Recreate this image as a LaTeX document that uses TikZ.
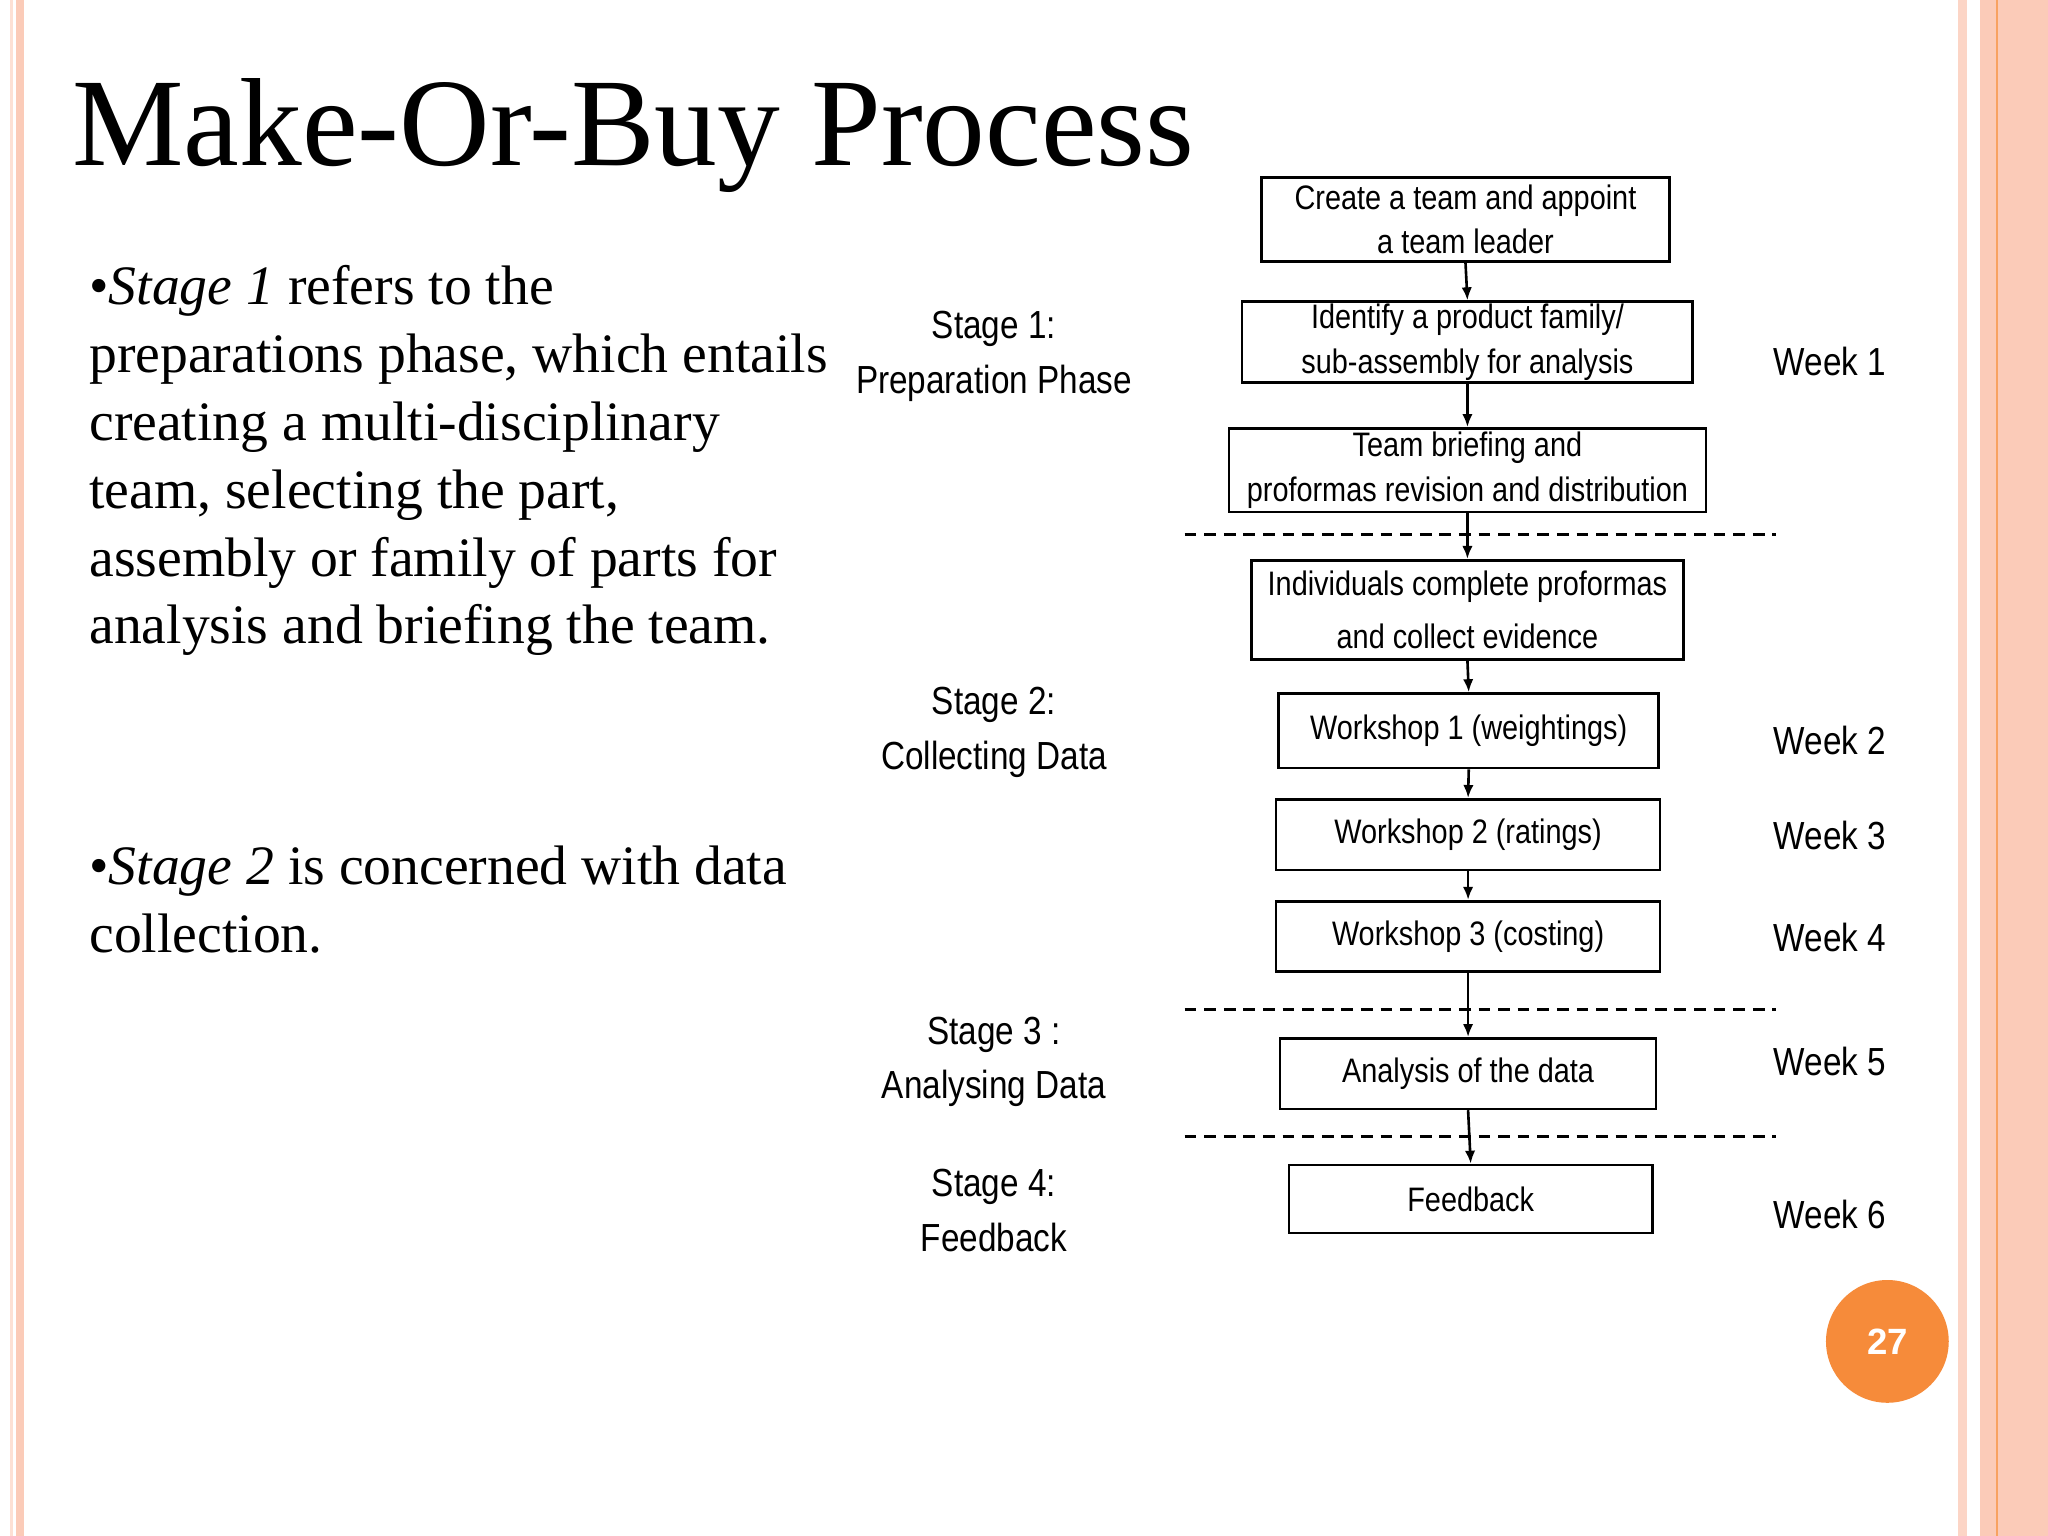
\documentclass[tikz,border=0pt]{standalone}
\usepackage{fontspec}
\setmainfont{Liberation Serif}
\newfontfamily\flowfont{Liberation Sans}
\usetikzlibrary{arrows.meta}
\definecolor{pinkA}{HTML}{FBCBB8}
\definecolor{orangeB}{HTML}{F68B3A}
\begin{document}
\begin{tikzpicture}[x=0.5pt,y=-0.5pt,
  fbox/.style={draw,line width=1pt,inner sep=0pt,font=\flowfont\fontsize{13}{16}\selectfont,align=center},
  lab/.style={font=\flowfont\fontsize{15}{21}\selectfont,align=center,xscale=0.85},
  arr/.style={-{Latex[length=5pt,width=4pt]},line width=1pt},
  dsh/.style={dash pattern=on 4.5pt off 3pt,line width=1pt},
  body/.style={anchor=base west,inner sep=0pt,font=\fontsize{21.3}{26}\selectfont}]
\useasboundingbox (0,0) rectangle (1568,1176);
\fill[white] (0,0) rectangle (1568,1176);
\fill[pinkA!60] (8,0) rectangle (10,1176);
\fill[pinkA] (12,0) rectangle (18,1176);
\fill[pinkA!80] (1499,0) rectangle (1506,1176);
\fill[pinkA] (1516,0) rectangle (1568,1176);
\fill[orangeB!80] (1528,0) rectangle (1530,1176);
\node[anchor=base west,inner sep=0pt,font=\fontsize{48}{55}\selectfont] (title) at (55,127) {Make-Or-Buy Process};
\node[body] (t1) at (68,233) {•\textit{Stage 1} refers to the};
\node[body] (t2) at (68,285) {preparations phase, which entails};
\node[body] (t3) at (68,337) {creating a multi-disciplinary};
\node[body] (t4) at (68,389) {team, selecting the part,};
\node[body] (t5) at (68,441) {assembly or family of parts for};
\node[body] (t6) at (68,493) {analysis and briefing the team.};
\node[body] (t7) at (68,677) {•\textit{Stage 2} is concerned with data};
\node[body] (t8) at (68,729) {collection.};
% boxes
\node[fbox,minimum width=156pt,minimum height=32pt] (b1) at (1122,168) {\scalebox{0.85}[1]{Create a team and appoint}\\[1pt]\scalebox{0.85}[1]{a team leader}};
\node[fbox,minimum width=172.5pt,minimum height=31pt] (b2) at (1123.5,262) {\scalebox{0.85}[1]{Identify a product family/}\\[1pt]\scalebox{0.85}[1]{sub-assembly for analysis}};
\node[fbox,minimum width=182.5pt,minimum height=32pt] (b3) at (1123.5,360) {\scalebox{0.85}[1]{Team briefing and}\\[1pt]\scalebox{0.85}[1]{proformas revision and distribution}};
\node[fbox,minimum width=165.5pt,minimum height=38pt] (b4) at (1123.5,467) {\scalebox{0.85}[1]{Individuals complete proformas}\\[4pt]\scalebox{0.85}[1]{and collect evidence}};
\node[fbox,minimum width=145.5pt,minimum height=28.5pt] (b5) at (1124.5,559.5) {\scalebox{0.85}[1]{Workshop 1 (weightings)}};
\node[fbox,minimum width=147pt,minimum height=27pt] (b6) at (1124,639) {\scalebox{0.85}[1]{Workshop 2 (ratings)}};
\node[fbox,minimum width=147pt,minimum height=27pt] (b7) at (1124,717) {\scalebox{0.85}[1]{Workshop 3 (costing)}};
\node[fbox,minimum width=144pt,minimum height=27pt] (b8) at (1124,822) {\scalebox{0.85}[1]{Analysis of the data}};
\node[fbox,minimum width=139pt,minimum height=26pt] (b9) at (1126,918) {\scalebox{0.85}[1]{Feedback}};
\foreach \a/\b in {b1/b2,b2/b3,b3/b4,b4/b5,b5/b6,b6/b7,b7/b8,b8/b9}
  \draw[arr] (\a.south) -- (\b.north);
\coordinate (d1a) at (907,409); \coordinate (d1b) at (1360,409);
\coordinate (d2a) at (907,773); \coordinate (d2b) at (1360,773);
\coordinate (d3a) at (907,870); \coordinate (d3b) at (1360,870);
\draw[dsh] (d1a) -- (d1b); \draw[dsh] (d2a) -- (d2b); \draw[dsh] (d3a) -- (d3b);
% stages
\node[lab] (s1) at (761,273) {Stage 1:\\Preparation Phase};
\node[lab] (s2) at (761,561) {Stage 2:\\Collecting Data};
\node[lab] (s3) at (761,813) {Stage 3 :\\Analysing Data};
\node[lab] (s4) at (761,927) {Stage 4:\\Feedback};
\foreach \n/\y/\t in {w1/277/1,w2/567/2,w3/640/3,w4/718/4,w5/813/5,w6/930/6}
  \node[lab] (\n) at (1401,\y) {Week \t};
\node[circle,fill=orangeB,minimum size=47pt,inner sep=0pt,text=white,font=\flowfont\bfseries\fontsize{14}{14}\selectfont] (pg) at (1445,1027) {27};
\end{tikzpicture}
\end{document}
